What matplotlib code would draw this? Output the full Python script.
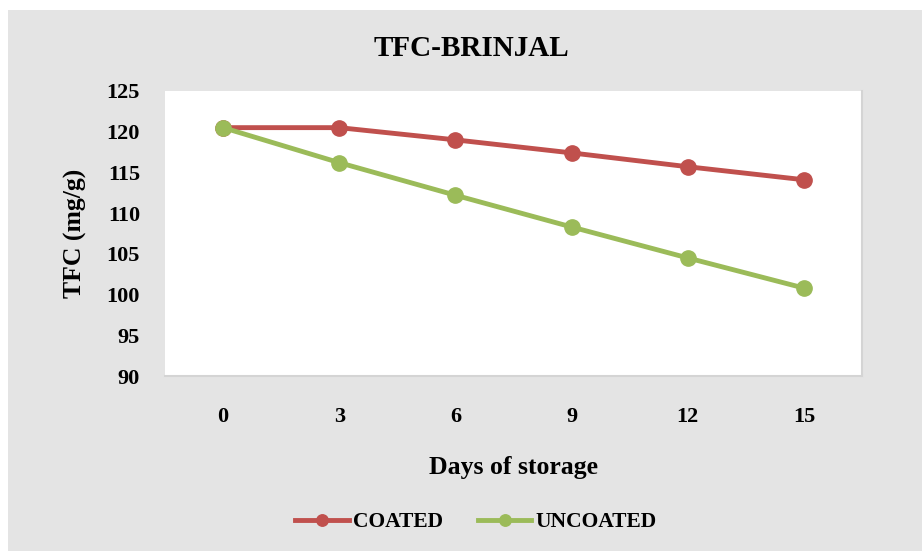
import matplotlib.pyplot as plt
from matplotlib.patches import Rectangle

# data
days = ["0", "3", "6", "9", "12", "15"]
coated = [120.5, 120.5, 119.0, 117.4, 115.7, 114.1]
uncoated = [120.5, 116.2, 112.2, 108.3, 104.5, 100.8]

plt.rcParams['font.family'] = ['Liberation Serif', 'DejaVu Serif']
plt.rcParams['font.weight'] = 'bold'

W, H = 922, 551
fig = plt.figure(figsize=(W / 100, H / 100), dpi=100, facecolor='white')
# grey chart area
fig.patches.append(Rectangle((8 / W, 0), 1 - 8 / W, 1 - 10 / H, transform=fig.transFigure,
                             facecolor='#e4e4e4', edgecolor='none', zorder=-10))

ax = fig.add_axes([165 / W, 1 - 376 / H, (862 - 165) / W, (376 - 91) / H])
ax.set_facecolor('white')

x = [i + 0.5 for i in range(len(days))]
ax.plot(x, coated, color='#c0504d', lw=3.5, marker='o', ms=11, label='COATED', zorder=3)
ax.plot(x, uncoated, color='#9bbb59', lw=3.5, marker='o', ms=11, label='UNCOATED', zorder=3)

ax.set_xlim(0, len(days))
ax.set_ylim(90, 125)
ax.set_yticks(range(90, 126, 5))
ax.set_xticks(x)
ax.set_xticklabels(days)
ax.tick_params(length=0, labelsize=16)
ax.tick_params(axis='y', pad=18)
ax.tick_params(axis='x', pad=22)
for s in ['top', 'left']:
    ax.spines[s].set_visible(False)
for s in ['bottom', 'right']:
    ax.spines[s].set_color('#d4d4d4')
    ax.spines[s].set_linewidth(1.5)

ax.set_xlabel('Days of storage', fontsize=18.5, fontweight='bold', labelpad=21)
ax.set_ylabel('TFC (mg/g)', fontsize=18.5, fontweight='bold', labelpad=14)
fig.text(471 / W, 1 - 49 / H, 'TFC-BRINJAL', ha='center', va='center', fontsize=21, fontweight='bold')

fig.legend(loc='center', bbox_to_anchor=(476 / W, 1 - 522 / H), ncol=2, frameon=False,
           fontsize=15.5, handlelength=2.5, columnspacing=1.6, handletextpad=0.2, markerscale=0.75)

fig.savefig('out.png', dpi=100)
